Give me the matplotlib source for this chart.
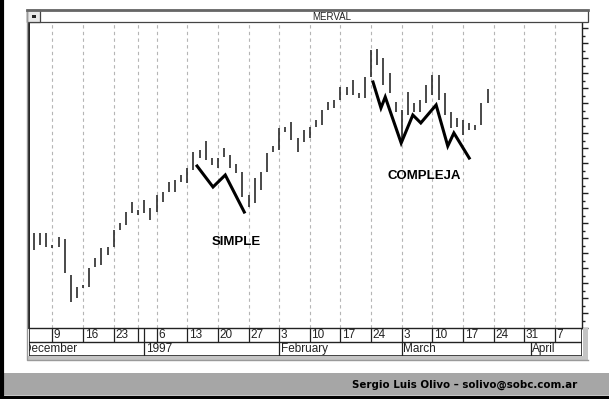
import matplotlib.pyplot as plt
from matplotlib.patches import Rectangle
from matplotlib.lines import Line2D
from matplotlib.ticker import MultipleLocator

W, H = 609, 399

# MERVAL daily high / low, one entry per trading session (Dec 1996 - Mar 1997)
highs = [613.3, 613.3, 613.3, 605.3, 610.7, 609.3, 585.3, 577.3, 578.7, 590.0,
         596.7, 603.3, 604.0, 615.3, 620.0, 627.3, 634.0, 628.7, 635.3, 630.0,
         638.7, 640.7, 647.3, 648.7, 652.0, 656.7, 667.3, 668.7, 674.7, 663.3,
         663.3, 670.0, 665.3, 659.3, 654.0, 638.7, 650.0, 654.0, 666.7, 671.3,
         683.3, 684.0, 687.3, 676.7, 682.0, 684.0, 688.7, 695.3, 700.7, 702.0,
         710.7, 710.7, 715.3, 706.7, 717.3, 735.3, 736.0, 730.0, 720.0, 700.7,
         695.3, 707.3, 700.0, 702.0, 712.0, 718.7, 718.7, 706.7, 694.0, 690.0,
         688.7, 686.7, 685.3, 700.0, 709.3]
lows = [602.0, 605.3, 604.0, 603.3, 604.0, 586.7, 567.3, 570.0, 576.7, 577.3,
        590.7, 592.0, 598.7, 604.0, 615.3, 618.7, 626.7, 625.3, 626.7, 622.0,
        627.3, 634.0, 640.7, 640.7, 647.3, 646.7, 655.3, 663.3, 662.0, 658.7,
        656.7, 664.0, 656.7, 653.3, 637.3, 630.7, 633.3, 642.0, 654.0, 667.3,
        668.7, 680.7, 675.3, 667.3, 674.0, 676.7, 684.0, 685.3, 695.3, 696.7,
        702.0, 705.3, 705.3, 703.3, 703.3, 717.3, 725.3, 712.0, 706.7, 694.0,
        675.3, 692.0, 694.0, 694.0, 700.0, 705.3, 702.0, 692.0, 683.3, 684.0,
        678.7, 682.0, 682.0, 685.3, 700.0]

# hand-drawn pattern lines
simple_x = [26.6, 29.2, 31.2, 34.3]
simple_y = [658.0, 644.0, 652.0, 627.3]
compleja_x = [55.3, 56.6, 57.3, 59.9, 61.8, 63.1, 65.6, 67.5, 68.5, 71.0]
compleja_y = [714.0, 696.7, 704.0, 673.3, 692.0, 686.7, 698.7, 671.3, 680.0, 663.3]

# date scale
week_pos = [3, 8, 13, 17, 20, 25, 30, 35, 40, 45, 50, 55, 60, 65, 70, 75, 80, 85]
week_labels = ['9', '16', '23', '', '6', '13', '20', '27', '3', '10', '17', '24',
               '3', '10', '17', '24', '31', '7']
month_pos = [-2.0, 18, 40, 60, 81]
month_labels = ['December', '1997', 'February', 'March', 'April']

XMIN, XMAX = -0.82, 89.4
YMIN, YMAX = 550, 754


def fbox(x0, y0, x1, y1):
    return [x0 / W, 1 - y1 / H, (x1 - x0) / W, (y1 - y0) / H]


def frect(fig, x0, y0, x1, y1, **kw):
    fig.patches.append(Rectangle((x0 / W, 1 - y1 / H), (x1 - x0) / W, (y1 - y0) / H,
                                 transform=fig.transFigure, **kw))


def fline(fig, xs, ys, **kw):
    fig.lines.append(Line2D([x / W for x in xs], [1 - y / H for y in ys],
                            transform=fig.transFigure, **kw))


plt.rcParams['font.family'] = ['Liberation Sans', 'DejaVu Sans']
fig = plt.figure(figsize=(W / 100, H / 100), dpi=100)
fig.patch.set_facecolor('white')

# window frame and title bar
fline(fig, [27, 27, 588], [10, 360, 360], color='#9a9a9a', lw=1)
frect(fig, 27, 10, 588, 22, fc='white', ec='#444444', lw=0.9)
fline(fig, [27, 588], [10, 10], color='#666666', lw=2)
frect(fig, 27, 10, 40, 22, fc='#e8e8e8', ec='#444444', lw=0.9)
frect(fig, 31.5, 15, 35.5, 17.5, fc='#222222', ec='none')
fig.text(332 / W, 1 - 16.5 / H, 'MERVAL', ha='center', va='center', fontsize=7,
         color='#222222')

# price pane
ax = fig.add_axes(fbox(29, 22, 582, 328))
ax.set_xlim(XMIN, XMAX)
ax.set_ylim(YMIN, YMAX)
days = list(range(len(highs)))
ax.vlines(days, lows, highs, color='#2a2a2a', lw=1.2, zorder=3)
ax.plot(simple_x, simple_y, color='black', lw=2.2, solid_joinstyle='miter', zorder=4)
ax.plot(compleja_x, compleja_y, color='black', lw=2.2, solid_joinstyle='miter', zorder=4)
ax.text(29.0, 607.3, 'SIMPLE', fontsize=9.5, fontweight='bold', va='center', ha='left')
ax.text(57.7, 651.0, 'COMPLEJA', fontsize=9.5, fontweight='bold', va='center', ha='left')

ax.set_xticks(week_pos)
ax.grid(axis='x', color='#b5b5b5', lw=0.8, ls=(0, (3, 3)))
ax.tick_params(axis='x', length=0, labelbottom=False)
ax.yaxis.tick_right()
ax.yaxis.set_major_locator(MultipleLocator(10))
ax.yaxis.set_minor_locator(MultipleLocator(5))
ax.tick_params(axis='y', which='major', length=4, width=1, direction='out',
               labelright=False, color='#222222')
ax.tick_params(axis='y', which='minor', length=2.5, width=1, direction='out',
               color='#222222')
for side in ['left', 'right', 'bottom']:
    ax.spines[side].set_color('#222222')
ax.spines['left'].set_linewidth(1.4)
ax.spines['right'].set_linewidth(1.0)
ax.spines['bottom'].set_linewidth(1.0)
ax.spines['top'].set_visible(False)

# date rows
dax = fig.add_axes(fbox(29, 328, 582, 356))
dax.set_xlim(XMIN, XMAX)
dax.set_ylim(0, 2)
dax.axis('off')
dax.add_patch(Rectangle((XMIN, 0), XMAX - XMIN, 2, fill=False, ec='#222222', lw=1.2))
dax.axhline(1, color='#222222', lw=1)
dax.vlines(week_pos + [18], 1, 2, color='#222222', lw=0.9)
for p, lab in zip(week_pos, week_labels):
    dax.text(p + 0.25, 1.48, lab, fontsize=8.5, va='center', ha='left', color='#222222')
dax.vlines(month_pos[1:], 0, 1, color='#222222', lw=0.9)
for p, lab in zip(month_pos, month_labels):
    dax.text(p + 0.25, 0.48, lab, fontsize=8.5, va='center', ha='left', color='#222222',
             clip_on=True)
frect(fig, 583, 328, 588, 357, fc='#c4c4c4', ec='none')
frect(fig, 27, 356, 588, 360, fc='#c4c4c4', ec='none')

# footer band
frect(fig, 0, 373, W, 395, fc='#a6a6a6', ec='none')
fline(fig, [0, W], [396.5, 396.5], color='black', lw=2.5)
fline(fig, [1.5, 1.5], [0, H], color='black', lw=3)
fig.text(577 / W, 1 - 385 / H, 'Sergio Luis Olivo \u2013 solivo@sobc.com.ar',
         ha='right', va='center', fontsize=7.4, fontweight='bold',
         family=['DejaVu Sans'], color='black')

fig.savefig('out.png', dpi=100)
